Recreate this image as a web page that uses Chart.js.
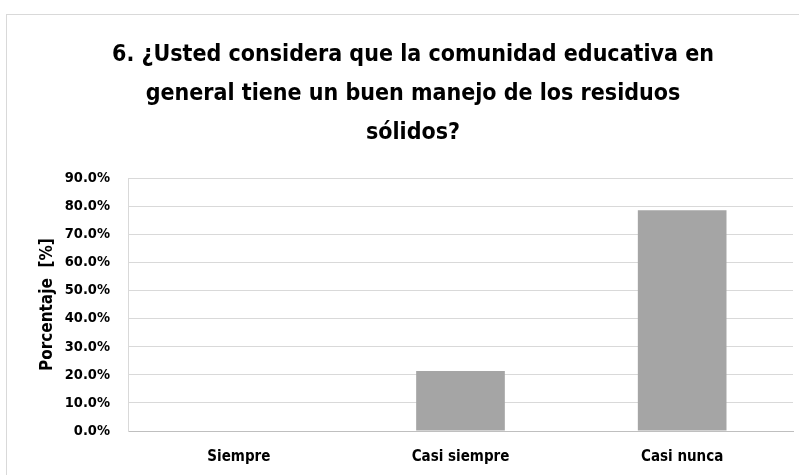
<!DOCTYPE html>
<html>
<head>
<meta charset="utf-8">
<script src="https://cdn.jsdelivr.net/npm/chart.js@4.4.1/dist/chart.umd.min.js"></script>
<style>
  body { margin: 0; background: #fff; overflow: hidden; }
  #wrap { position: absolute; left: 6px; top: 14px; width: 792px; height: 470px; border: 1px solid #d9d9d9; border-right: none; }
</style>
</head>
<body>
<div id="wrap"><canvas id="chart" width="792" height="470"></canvas></div>
<script>
// datos del gráfico
const categorias = ['Siempre', 'Casi siempre', 'Casi nunca'];
const porcentajes = [0, 21.4, 78.6];
const titulo = ['6. ¿Usted considera que la comunidad educativa en', 'general tiene un buen manejo de los residuos', 'sólidos?'];
const ejeY = 'Porcentaje  [%]';

const fuente = '"DejaVu Sans Condensed", "DejaVu Sans", sans-serif';

const ctx = document.getElementById('chart').getContext('2d');
new Chart(ctx, {
    type: 'bar',
    data: {
        labels: categorias,
        datasets: [{
            data: porcentajes,
            backgroundColor: '#a5a5a5',
            borderWidth: 0,
            barPercentage: 0.4,
            categoryPercentage: 1
        }]
    },
    options: {
        responsive: false,
        animation: false,
        layout: { padding: { left: 26, right: 6, top: 0, bottom: 2 } },
        plugins: {
            legend: { display: false },
            tooltip: { enabled: false },
            title: {
                display: true,
                text: titulo,
                color: '#000',
                font: { family: fuente, size: 23, weight: 'bold', lineHeight: 1.7 },
                padding: { top: 20, bottom: 26 }
            }
        },
        scales: {
            x: {
                grid: { display: false, drawTicks: false },
                border: { color: '#bfbfbf' },
                ticks: { color: '#000', font: { family: fuente, size: 15, weight: 'bold' }, padding: 17 }
            },
            y: {
                min: 0,
                max: 90,
                afterFit: scale => { scale.width = 95; }, // ancho fijo del eje
                ticks: {
                    stepSize: 10,
                    color: '#000',
                    font: { family: fuente, size: 14.5, weight: 'bold' },
                    padding: 18,
                    callback: v => v.toFixed(1) + '%'
                },
                grid: { color: '#d9d9d9', drawTicks: false },
                border: { color: '#d9d9d9' },
                title: {
                    display: true,
                    text: ejeY,
                    color: '#000',
                    font: { family: fuente, size: 17, weight: 'bold' },
                    padding: { top: 4, bottom: 4 }
                }
            }
        }
    }
});
</script>
</body>
</html>
